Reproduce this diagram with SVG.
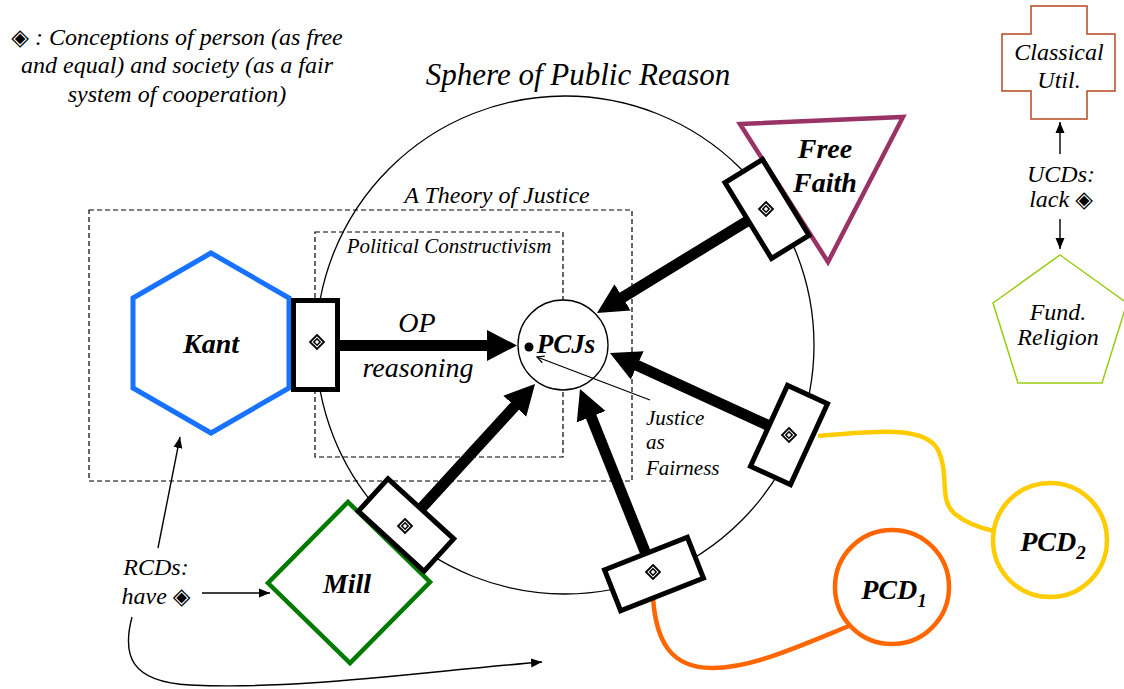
<svg xmlns="http://www.w3.org/2000/svg" width="1124" height="689" viewBox="0 0 1124 689">
<style>
text{font-family:"Liberation Serif","Times New Roman",serif;font-style:italic;fill:#000}
.b{font-weight:bold}
.sym{font-family:"DejaVu Sans",sans-serif;font-style:normal;font-weight:bold}
.dash{fill:none;stroke:#000;stroke-width:1.2;stroke-dasharray:5 3}
.port{fill:#fff;stroke:#000;stroke-width:5}
.thick{stroke:#000;stroke-width:11;fill:none;marker-end:url(#big)}
.thin{stroke:#000;stroke-width:1.4;fill:none;marker-end:url(#small)}
.ico{fill:none;stroke:#000}
</style>
<defs>
<marker id="big" markerUnits="userSpaceOnUse" markerWidth="32" markerHeight="34" refX="15" refY="16" orient="auto" viewBox="0 0 32 34">
<path d="M0,0.5 L30,16 L0,31.5 Z" fill="#000"/>
</marker>
<marker id="small" markerUnits="userSpaceOnUse" markerWidth="12" markerHeight="10" refX="11" refY="5" orient="auto" viewBox="0 0 12 10">
<path d="M0,0.5 L11,5 L0,9.5 Z" fill="#000"/>
</marker>
<marker id="open" markerUnits="userSpaceOnUse" markerWidth="10" markerHeight="10" refX="8" refY="5" orient="auto" viewBox="0 0 10 10">
<path d="M1,1.5 L8,5 L1,8.5" fill="none" stroke="#000" stroke-width="1.2"/>
</marker>
<g id="icon">
<path class="ico" stroke-width="1.8" d="M0,-7 L7,0 L0,7 L-7,0 Z"/>
<path class="ico" stroke-width="1.5" d="M0,-3.2 L3.2,0 L0,3.2 L-3.2,0 Z"/>
</g>
</defs>
<rect width="1124" height="689" fill="#fff"/>

<g id="legend">
<text x="177" y="45" text-anchor="middle" font-size="24"><tspan class="sym" font-size="23">◈</tspan> : Conceptions of person (as free</text>
<text x="177" y="73" text-anchor="middle" font-size="24">and equal) and society (as a fair</text>
<text x="177" y="102" text-anchor="middle" font-size="24">system of cooperation)</text>
</g>

<g id="sphere">
<circle cx="565" cy="345" r="249" fill="none" stroke="#000" stroke-width="1.3"/>
<text x="578" y="85" text-anchor="middle" font-size="31">Sphere of Public Reason</text>
</g>

<g id="theory-of-justice">
<rect class="dash" x="89" y="210" width="543" height="271"/>
<text x="497" y="203" text-anchor="middle" font-size="24">A Theory of Justice</text>
</g>

<g id="political-constructivism">
<rect class="dash" x="315" y="232" width="248" height="225"/>
<text x="449" y="253" text-anchor="middle" font-size="21">Political Constructivism</text>
</g>

<g id="kant">
<polygon points="211,253 289,298 289,388 211,433 133,388 133,298" fill="#fff" stroke="#1672ff" stroke-width="5"/>
<text class="b" x="211" y="353" text-anchor="middle" font-size="28">Kant</text>
</g>

<g id="free-faith">
<polygon points="740,124 903,117 828,262" fill="#fff" stroke="#993366" stroke-width="4.5"/>
<text class="b" x="825" y="158" text-anchor="middle" font-size="28">Free</text>
<text class="b" x="825" y="192" text-anchor="middle" font-size="28">Faith</text>
</g>

<g id="mill">
<polygon points="348,502 430,582 350,663 268,583" fill="#fff" stroke="#007a00" stroke-width="4.5"/>
<text class="b" x="347" y="593" text-anchor="middle" font-size="28">Mill</text>
</g>

<g id="pcjs">
<circle cx="563" cy="345" r="45" fill="#fff" stroke="#000" stroke-width="1.3"/>
<circle cx="529" cy="347" r="4.5" fill="#000"/>
<text class="b" x="566" y="353" text-anchor="middle" font-size="27">PCJs</text>
</g>

<g id="pcd1">
<circle cx="892" cy="587" r="57" fill="#fff" stroke="#ff6600" stroke-width="4.5"/>
<text class="b" x="894" y="599" text-anchor="middle" font-size="28">PCD<tspan dy="8" font-size="19">1</tspan></text>
</g>

<g id="pcd2">
<circle cx="1050" cy="540" r="57" fill="#fff" stroke="#ffcc00" stroke-width="4.5"/>
<text class="b" x="1053" y="551" text-anchor="middle" font-size="28">PCD<tspan dy="8" font-size="19">2</tspan></text>
</g>

<g id="classical-util">
<path d="M1031,6 H1087 V34 H1115 V91 H1087 V119 H1031 V91 H1002 V34 H1031 Z" fill="#fff" stroke="#b5481f" stroke-width="1.5"/>
<text x="1059" y="60" text-anchor="middle" font-size="24">Classical</text>
<text x="1059" y="88" text-anchor="middle" font-size="24">Util.</text>
</g>

<g id="fund-religion">
<polygon points="1060,255 1127,303 1102,383 1018,383 993,303" fill="#fff" stroke="#99cc11" stroke-width="1.5"/>
<text x="1058" y="320" text-anchor="middle" font-size="24">Fund.</text>
<text x="1058" y="345" text-anchor="middle" font-size="24">Religion</text>
</g>

<g id="ucds">
<text x="1061" y="182" text-anchor="middle" font-size="24">UCDs:</text>
<text x="1061" y="207" text-anchor="middle" font-size="24">lack <tspan class="sym" font-size="23">◈</tspan></text>
</g>

<g id="rcds">
<text x="156" y="575" text-anchor="middle" font-size="24">RCDs:</text>
<text x="156" y="604" text-anchor="middle" font-size="24">have <tspan class="sym" font-size="23">◈</tspan></text>
</g>

<g id="justice-as-fairness">
<text x="646" y="425" font-size="21">Justice</text>
<text x="646" y="449" font-size="21">as</text>
<text x="646" y="475" font-size="21">Fairness</text>
</g>

<g id="connectors">
<line class="thick" x1="337" y1="345.5" x2="502" y2="345.5"/>
<text x="417" y="332" text-anchor="middle" font-size="28">OP</text>
<text x="418" y="377" text-anchor="middle" font-size="28">reasoning</text>
<line class="thick" x1="767" y1="209" x2="609.8" y2="305.2"/>
<line class="thick" x1="789" y1="435" x2="623.6" y2="359.2"/>
<line class="thick" x1="654" y1="574" x2="585.6" y2="402.9"/>
<line class="thick" x1="406" y1="525" x2="524.9" y2="395.1"/>
<path d="M818,436 C870,432 925,424 938,450 C950,474 938,500 955,514 C966,523 980,528 994,531" fill="none" stroke="#ffcc00" stroke-width="4.5"/>
<path d="M653,598 C656,640 670,668 712,668 C752,668 800,646 849,626" fill="none" stroke="#ff6600" stroke-width="4.5"/>
<line x1="650" y1="400" x2="537" y2="357" stroke="#000" stroke-width="1.3" marker-end="url(#open)"/>
<line class="thin" x1="158" y1="548" x2="180" y2="437"/>
<line class="thin" x1="202" y1="593" x2="270" y2="593"/>
<path class="thin" d="M132,617 C122,655 130,682 190,685 C300,690 420,672 542,662"/>
<line class="thin" x1="1060" y1="154" x2="1060" y2="122"/>
<line class="thin" x1="1060" y1="219" x2="1060" y2="249"/>
</g>

<g id="ports">
<g transform="translate(315.5 345)"><rect class="port" x="-22" y="-44.5" width="44" height="89"/></g>
<use href="#icon" x="317" y="342"/>
<g transform="translate(767 209) rotate(-31.5)"><rect class="port" x="-22" y="-44.5" width="44" height="89"/></g>
<use href="#icon" x="766" y="209"/>
<g transform="translate(789 435) rotate(24.6)"><rect class="port" x="-22" y="-44.5" width="44" height="89"/></g>
<use href="#icon" x="789" y="435"/>
<g transform="translate(654 574) rotate(-21.5)"><rect class="port" x="-44.5" y="-22" width="89" height="44"/></g>
<use href="#icon" x="653" y="572"/>
<g transform="translate(406 525) rotate(42.4)"><rect class="port" x="-44.5" y="-22" width="89" height="44"/></g>
<use href="#icon" x="405" y="526"/>
</g>
</svg>
